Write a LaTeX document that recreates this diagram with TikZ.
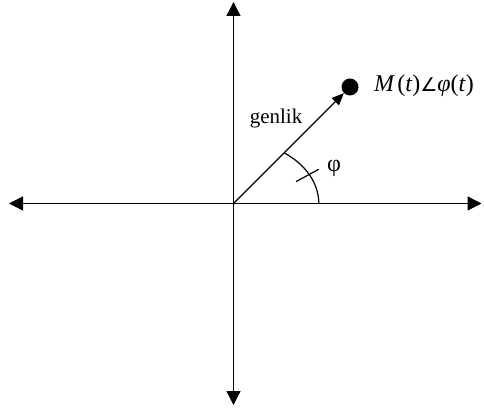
\documentclass[tikz,border=0pt]{standalone}
\usepackage{fontspec}
\setmainfont{Liberation Serif}
\newfontfamily\angfont{DejaVu Sans}
\usetikzlibrary{arrows.meta}
\tikzset{
  axis/.style={line width=1.4pt, -{Triangle[length=14pt,width=14pt]}},
  vec/.style={line width=1.4pt, -{Triangle[length=12pt,width=10pt]}},
  thinline/.style={line width=1.2pt},
  lbl/.style={inner sep=0pt, font=\fontsize{21}{24}\selectfont},
}
\begin{document}
\begin{tikzpicture}[x=1pt,y=1pt]
\useasboundingbox (0,0) rectangle (484,412);
\coordinate (O) at (233.5,208.5);
\coordinate (L) at (9,208.5);
\coordinate (R) at (481.5,208.5);
\coordinate (T) at (233.5,410);
\coordinate (B) at (233.5,7);
\draw[axis] (O) -- (L);
\draw[axis] (O) -- (R);
\draw[axis] (O) -- (T);
\draw[axis] (O) -- (B);
\node[circle, fill=black, inner sep=0pt, minimum size=17pt] (P) at (350,325) {};
\draw[vec] (O) -- (P);
\coordinate (A0) at (318.8,208.5);
\draw[thinline] (A0) arc[start angle=0, end angle=53.13, x radius=85.3pt, y radius=63pt];
\coordinate (K1) at (296,230.3);
\coordinate (K2) at (318.7,242.7);
\draw[thinline] (K1) -- (K2);
\node[lbl] (gl) at (276,294) {genlik};
\node[lbl, font=\fontsize{24}{28}\selectfont] (ph) at (334,244) {φ};
\node[lbl, anchor=west, font=\fontsize{24}{28}\selectfont] (M) at (374,326.5) {\textit{M}\kern2pt(\textit{t}){\angfont\fontsize{19}{24}\selectfont ∠}\textit{φ}(\textit{t})};
\end{tikzpicture}
\end{document}
